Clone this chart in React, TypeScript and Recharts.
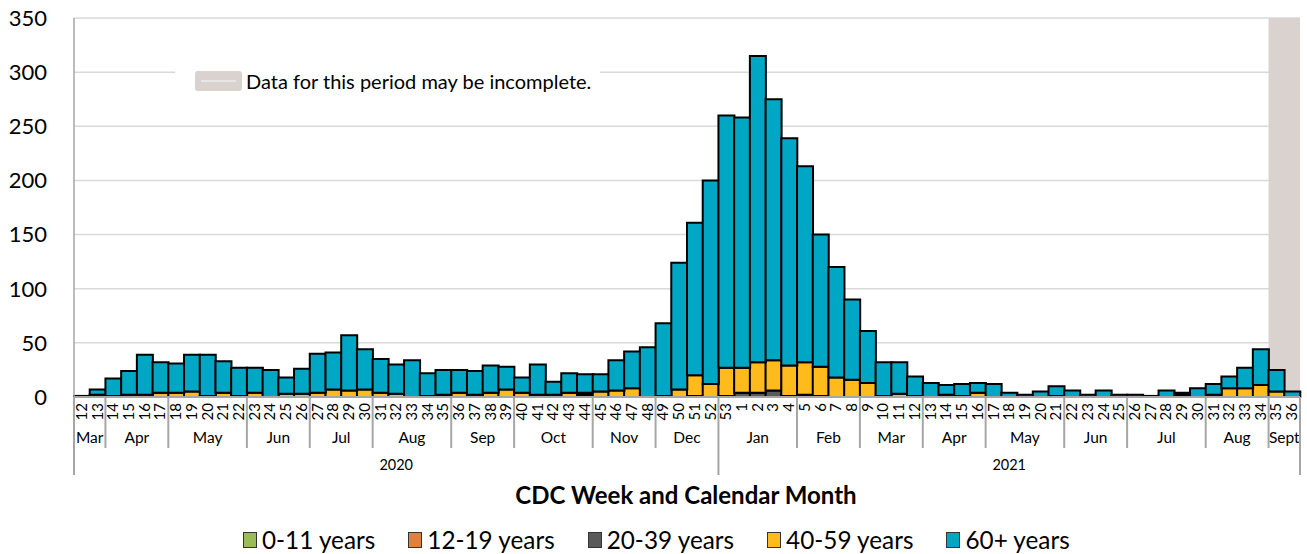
import React from 'react';
import { BarChart, Bar, XAxis, YAxis, CartesianGrid, ReferenceArea } from 'recharts';

// CDC week labels (2020 week 12 through 2021 week 36)
const weekLabels = [
  '12','13','14','15','16','17','18','19','20','21','22','23','24','25','26','27','28','29','30','31',
  '32','33','34','35','36','37','38','39','40','41','42','43','44','45','46','47','48','49','50','51','52',
  '53','1','2','3','4','5','6','7','8','9','10','11','12','13','14','15','16','17','18','19','20',
  '21','22','23','24','25','26','27','28','29','30','31','32','33','34','35','36',
];

const monthNames = ['Mar','Apr','May','Jun','Jul','Aug','Sep','Oct','Nov','Dec','Jan','Feb','Mar','Apr','May','Jun','Jul','Aug','Sept'];
const monthSpans = [2,4,5,4,4,5,4,5,4,4,5,4,4,4,5,4,5,4,2];
const yearNames = ['2020','2021'];
const yearSpans = [41,37];

const age0to11 = [
  0,0,0,0,0,0,0,0,0,0,0,0,0,0,0,0,0,0,0,0,
  0,0,0,0,0,0,0,0,0,0,0,0,0,0,0,0,0,0,0,0,0,
  0,0,0,0,0,0,0,0,0,0,0,0,0,0,0,0,0,0,0,0,0,
  0,0,0,0,0,0,0,0,0,0,0,0,0,0,0,0,
];
const age12to19 = [
  0,0,0,0,0,0,0,0,0,0,0,0,0,0,0,0,0,0,0,0,
  0,0,0,0,0,0,0,0,0,0,0,0,0,0,0,0,0,0,0,0,0,
  0,0,0,0,0,0,0,0,0,0,0,0,0,0,0,0,0,0,0,0,0,
  0,0,0,0,0,0,0,0,0,0,0,0,0,0,0,0,
];
const age20to39 = [
  0,0,0,0,0,0,0,0,0,0,0,0,0,0,0,0,0,0,0,0,
  0,0,0,1,0,0,0,0,0,0,0,0,2,0,0,0,0,0,0,1,0,
  1,4,4,6,1,2,1,0,0,0,0,0,0,0,0,0,0,0,0,0,0,
  0,0,0,0,0,0,0,0,1,0,0,0,0,0,0,0,
];
const age40to59 = [
  0,2,1,2,2,4,4,5,1,4,1,4,0,3,3,4,7,6,7,4,
  3,0,1,1,4,2,4,7,4,2,2,4,2,5,6,8,0,1,7,19,12,
  26,23,28,28,28,30,27,18,16,13,1,3,1,0,2,1,4,0,0,0,0,
  1,0,0,0,0,0,0,0,1,0,2,8,8,11,5,0,
];
const age60plus = [
  1,5,16,22,37,28,27,34,38,29,26,23,25,15,23,36,34,51,37,31,
  27,34,21,23,21,22,25,21,14,28,12,18,17,16,28,34,46,67,117,141,188,
  233,231,283,241,210,181,122,102,74,48,31,29,18,13,9,11,9,12,4,2,5,
  9,6,2,6,2,2,1,6,2,8,10,11,19,33,20,5,
];

const seriesNames = ['0-11 years','12-19 years','20-39 years','40-59 years','60+ years'];
const seriesColors = ['#9BBB59','#E0823D','#5A5A5A','#FFBB1C','#00A7C4'];
const seriesKeys = ['a','b','c','d','e'];

const data = weekLabels.map((w, i) => ({
  key: `k${i}`,
  week: w,
  a: age0to11[i],
  b: age12to19[i],
  c: age20to39[i],
  d: age40to59[i],
  e: age60plus[i],
}));

const monthStarts: Record<number, { label: string; count: number }> = {};
{
  let acc = 0;
  monthNames.forEach((m, i) => { monthStarts[acc] = { label: m, count: monthSpans[i] }; acc += monthSpans[i]; });
}
const yearStarts: Record<number, { label: string; count: number }> = {};
{
  let acc = 0;
  yearNames.forEach((y, i) => { yearStarts[acc] = { label: y, count: yearSpans[i] }; acc += yearSpans[i]; });
}

const FONT = 'Lato, "Open Sans", sans-serif';
const SEP = '#a6a6a6';

function WeekTick(props: any) {
  const { x, y, payload } = props;
  const i: number = props.index ?? payload.index;
  const half: number = payload && payload.offset ? payload.offset : 7.86;
  const left = x - half;
  const els: any[] = [];
  els.push(
    <text key="w" x={0} y={0} transform={`translate(${x + 5},${y + 6}) rotate(-90)`} textAnchor="end"
      fontSize={15} fill="#000" fontFamily={FONT}>{weekLabels[i]}</text>
  );
  const m = monthStarts[i];
  const yr = yearStarts[i];
  if (m) {
    els.push(<line key="ml" x1={left} x2={left} y1={y} y2={y + (yr ? 78 : 51)} stroke={SEP} strokeWidth={2} />);
    els.push(<text key="mt" x={left + m.count * half} y={y + 46} textAnchor="middle" fontSize={15.5} fill="#000" fontFamily={FONT}>{m.label}</text>);
  }
  if (yr) {
    els.push(<text key="yt" x={left + yr.count * half} y={y + 73} textAnchor="middle" fontSize={14.5} fill="#000" fontFamily={FONT}>{yr.label}</text>);
  }
  if (i === weekLabels.length - 1) {
    els.push(<line key="rl" x1={x + half} x2={x + half} y1={y} y2={y + 78} stroke={SEP} strokeWidth={2} />);
  }
  return <g>{els}</g>;
}

export default function App() {
  return (
    <div style={{ position: 'absolute', left: 0, top: 0, width: 1307, height: 554, background: '#fff', fontFamily: FONT }}>
      <BarChart width={1307} height={480} data={data} margin={{ top: 18, right: 7, left: 0, bottom: 0 }}
        barCategoryGap={0} barGap={0}>
        <CartesianGrid horizontal vertical={false} stroke="#d9d9d9" strokeWidth={1.5} />
        <ReferenceArea x1={data[76].key} x2={data[77].key} y1={0} y2={350} fill="#D9D2CE" fillOpacity={1} stroke="none" />
        <XAxis dataKey="key" interval={0} height={83} tickLine={false} tickSize={0} tickMargin={0}
          axisLine={{ stroke: SEP, strokeWidth: 2 }} tick={<WeekTick />} />
        <YAxis domain={[0, 350]} ticks={[0, 50, 100, 150, 200, 250, 300, 350]} width={74} tickLine={false}
          tickSize={0} tickMargin={27} axisLine={{ stroke: SEP, strokeWidth: 1.5 }}
          tick={{ fontSize: 22, fill: '#000', fontFamily: FONT }} />
        {seriesKeys.map((k, i) => (
          <Bar key={k} dataKey={k} name={seriesNames[i]} stackId="s" fill={seriesColors[i]} stroke="#000"
            strokeWidth={2} isAnimationActive={false} />
        ))}
      </BarChart>

      <div style={{ position: 'absolute', left: 175, top: 62, width: 425, height: 24, background: '#fff' }} />
      <div style={{ position: 'absolute', left: 195, top: 71, width: 47, height: 20, background: '#D9D2CE', borderRadius: 3 }}>
        <div style={{ position: 'absolute', left: 6, right: 6, top: 9, height: 2, background: '#e6e6e6' }} />
      </div>
      <div style={{ position: 'absolute', left: 246, top: 69, fontSize: 20, lineHeight: '24px', color: '#000', whiteSpace: 'nowrap' }}>
        Data for this period may be incomplete.
      </div>

      <div style={{ position: 'absolute', left: 686, top: 481, transform: 'translateX(-50%)', fontSize: 24, fontWeight: 700, lineHeight: '28px', color: '#000', whiteSpace: 'nowrap' }}>
        CDC Week and Calendar Month
      </div>

      <div style={{ position: 'absolute', left: 243, top: 526, display: 'flex', alignItems: 'center', whiteSpace: 'nowrap' }}>
        {seriesNames.map((n, i) => (
          <div key={n} style={{ display: 'flex', alignItems: 'center', marginRight: i < seriesNames.length - 1 ? 33 : 0 }}>
            <div style={{ width: 12, height: 14, background: seriesColors[i], border: '1px solid #333', marginRight: 5 }} />
            <span style={{ fontSize: 24.3, lineHeight: '28px', color: '#000' }}>{n}</span>
          </div>
        ))}
      </div>
    </div>
  );
}
